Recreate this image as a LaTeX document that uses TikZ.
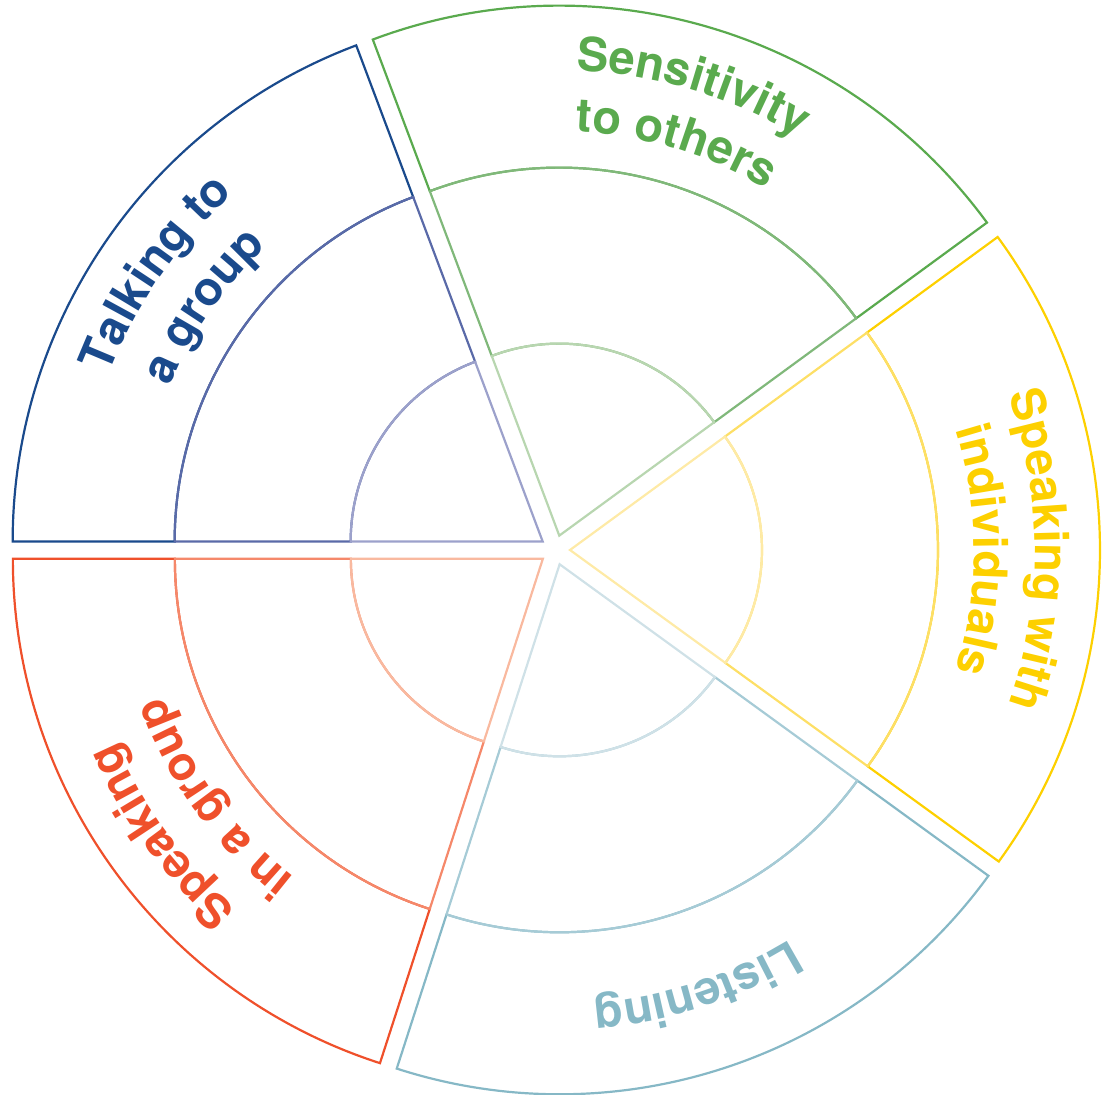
\documentclass[tikz,border=0pt]{standalone}
\usepackage{fontspec}
\newfontfamily\labelfont{TeX Gyre Heros}
\usetikzlibrary{decorations.text}

\definecolor{talkdark}{HTML}{1A4A8C}
\definecolor{talkmid}{HTML}{5A6AA8}
\definecolor{talklight}{HTML}{9CA1CB}
\definecolor{sensedark}{HTML}{5AAA4E}
\definecolor{sensemid}{HTML}{80B87A}
\definecolor{senselight}{HTML}{B8D6B0}
\definecolor{indivdark}{HTML}{FDD000}
\definecolor{indivmid}{HTML}{FDDF66}
\definecolor{indivlight}{HTML}{FEEAA6}
\definecolor{listendark}{HTML}{86B8C6}
\definecolor{listenmid}{HTML}{A6CBD6}
\definecolor{listenlight}{HTML}{CFE1E7}
\definecolor{speakdark}{HTML}{EF502B}
\definecolor{speakmid}{HTML}{F5886A}
\definecolor{speaklight}{HTML}{F9B99F}

\newcommand\wheelfont{\labelfont\bfseries\fontsize{47}{47}\selectfont}

\tikzset{
  ring/.style={line width=2.2pt, line join=miter},
  arclabel/.style={decorate, decoration={text along path, text align=center, text={#1}}}
}

\begin{document}
\begin{tikzpicture}[x=1pt, y=1pt]
  \useasboundingbox (-555,-545) rectangle (549,550);

  % ── Talking to a group ──────────────────────────────────────────
  \begin{scope}[shift={(145.3:15)}]
    \coordinate (T0) at (0,0);
    \draw[ring, talkdark]  (180:368) -- (180:530) arc[start angle=180, end angle=110.6, radius=530]
                           -- (110.6:368) arc[start angle=110.6, end angle=180, radius=368] -- cycle;
    \draw[ring, talkmid]   (180:192) -- (180:368) arc[start angle=180, end angle=110.6, radius=368]
                           -- (110.6:192) arc[start angle=110.6, end angle=180, radius=192] -- cycle;
    \draw[ring, talklight] (T0) -- (180:192) arc[start angle=180, end angle=110.6, radius=192] -- cycle;

    \path[arclabel={|\wheelfont\color{talkdark}|Talking to}] (179.3:465) arc[start angle=179.3, end angle=111.3, radius=465];
    \path[arclabel={|\wheelfont\color{talkdark}|a group}]    (179.3:404) arc[start angle=179.3, end angle=111.3, radius=404];
  \end{scope}

  % ── Sensitivity to others ───────────────────────────────────────
  \begin{scope}[shift={(73.4:15)}]
    \coordinate (S0) at (0,0);
    \draw[ring, sensedark]  (110.6:368) -- (110.6:530) arc[start angle=110.6, end angle=36.2, radius=530]
                            -- (36.2:368) arc[start angle=36.2, end angle=110.6, radius=368] -- cycle;
    \draw[ring, sensemid]   (110.6:192) -- (110.6:368) arc[start angle=110.6, end angle=36.2, radius=368]
                            -- (36.2:192) arc[start angle=36.2, end angle=110.6, radius=192] -- cycle;
    \draw[ring, senselight] (S0) -- (110.6:192) arc[start angle=110.6, end angle=36.2, radius=192] -- cycle;

    \path[arclabel={|\wheelfont\color{sensedark}|Sensitivity}] (107.4:465) arc[start angle=107.4, end angle=39.4, radius=465];
    \path[arclabel={|\wheelfont\color{sensedark}|to others}]   (107.4:404) arc[start angle=107.4, end angle=39.4, radius=404];
  \end{scope}

  % ── Speaking with individuals ───────────────────────────────────
  \begin{scope}[shift={(0:15)}]
    \coordinate (I0) at (0,0);
    \draw[ring, indivdark]  (36.2:368) -- (36.2:530) arc[start angle=36.2, end angle=-36, radius=530]
                            -- (-36:368) arc[start angle=-36, end angle=36.2, radius=368] -- cycle;
    \draw[ring, indivmid]   (36.2:192) -- (36.2:368) arc[start angle=36.2, end angle=-36, radius=368]
                            -- (-36:192) arc[start angle=-36, end angle=36.2, radius=192] -- cycle;
    \draw[ring, indivlight] (I0) -- (36.2:192) arc[start angle=36.2, end angle=-36, radius=192] -- cycle;

    \path[arclabel={|\wheelfont\color{indivdark}|Speaking with}] (34:465) arc[start angle=34, end angle=-34, radius=465];
    \path[arclabel={|\wheelfont\color{indivdark}|individuals}]   (34:404) arc[start angle=34, end angle=-34, radius=404];
  \end{scope}

  % ── Listening ───────────────────────────────────────────────────
  \begin{scope}[shift={(-72:15)}]
    \coordinate (L0) at (0,0);
    \draw[ring, listendark]  (-36:368) -- (-36:530) arc[start angle=-36, end angle=-107.9, radius=530]
                             -- (-107.9:368) arc[start angle=-107.9, end angle=-36, radius=368] -- cycle;
    \draw[ring, listenmid]   (-36:192) -- (-36:368) arc[start angle=-36, end angle=-107.9, radius=368]
                             -- (-107.9:192) arc[start angle=-107.9, end angle=-36, radius=192] -- cycle;
    \draw[ring, listenlight] (L0) -- (-36:192) arc[start angle=-36, end angle=-107.9, radius=192] -- cycle;

    \path[arclabel={|\wheelfont\color{listendark}|Listening}] (-38:440) arc[start angle=-38, end angle=-106, radius=440];
  \end{scope}

  % ── Speaking in a group ─────────────────────────────────────────
  \begin{scope}[shift={(216:15)}]
    \coordinate (G0) at (0,0);
    \draw[ring, speakdark]  (252.1:368) -- (252.1:530) arc[start angle=252.1, end angle=180, radius=530]
                            -- (180:368) arc[start angle=180, end angle=252.1, radius=368] -- cycle;
    \draw[ring, speakmid]   (252.1:192) -- (252.1:368) arc[start angle=252.1, end angle=180, radius=368]
                            -- (180:192) arc[start angle=180, end angle=252.1, radius=192] -- cycle;
    \draw[ring, speaklight] (G0) -- (252.1:192) arc[start angle=252.1, end angle=180, radius=192] -- cycle;

    \path[arclabel={|\wheelfont\color{speakdark}|Speaking}]   (250:465) arc[start angle=250, end angle=182, radius=465];
    \path[arclabel={|\wheelfont\color{speakdark}|in a group}] (250:404) arc[start angle=250, end angle=182, radius=404];
  \end{scope}
\end{tikzpicture}
\end{document}
